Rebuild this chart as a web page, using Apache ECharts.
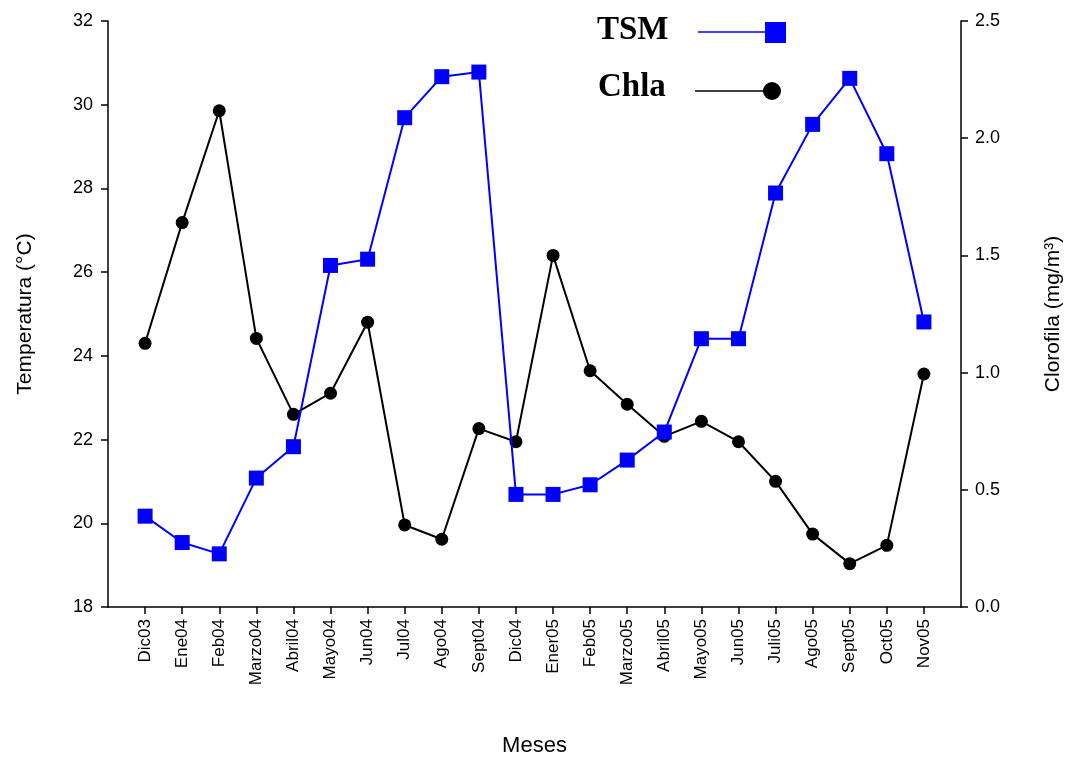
<!DOCTYPE html>
<html><head><meta charset="utf-8">
<script src="https://cdn.jsdelivr.net/npm/echarts@6/dist/echarts.min.js"></script>
<style>html,body{margin:0;padding:0;background:#fff}#c{width:1072px;height:765px}</style>
</head><body><div id="c"></div>
<script>
var categories = ['Dic03','Ene04','Feb04','Marzo04','Abril04','Mayo04','Jun04','Jul04','Ago04','Sept04','Dic04','Ener05','Feb05','Marzo05','Abril05','Mayo05','Jun05','Juli05','Ago05','Sept05','Oct05','Nov05'];
var tsm = [20.17,19.54,19.27,21.08,21.83,26.16,26.31,29.69,30.67,30.78,20.69,20.69,20.92,21.51,22.18,24.41,24.41,27.89,29.53,30.63,28.83,24.81];
var chla = [1.125,1.64,2.117,1.146,0.822,0.912,1.215,0.35,0.289,0.761,0.705,1.50,1.008,0.865,0.728,0.792,0.705,0.536,0.311,0.185,0.263,0.994];
var tempTicks = [18,20,22,24,26,28,30,32];
var chlaTicks = [0,0.5,1,1.5,2,2.5];

var idx = categories.map(function(_, i){ return i; });
var font = 'Liberation Sans, Arial, sans-serif';
var chart = echarts.init(document.getElementById('c'), null, {renderer:'canvas'});
chart.setOption({
  backgroundColor:'#fff',
  animation:false,
  grid:{left:108,right:109,top:21,bottom:158,containLabel:false},
  xAxis:{
    type:'value', min:-1, max:categories.length,
    name:'Meses', nameLocation:'middle', nameGap:128,
    nameTextStyle:{fontFamily:font,fontSize:22,color:'#000'},
    axisLine:{show:true,onZero:false,lineStyle:{color:'#000',width:1.5}},
    axisTick:{show:true,length:7,lineStyle:{color:'#000',width:1.5},customValues:idx},
    axisLabel:{rotate:90,fontFamily:font,fontSize:17,color:'#000',margin:12,customValues:idx,
      formatter:function(v){return categories[Math.round(v)]||'';}},
    splitLine:{show:false}
  },
  yAxis:[{
    type:'value', min:tempTicks[0], max:tempTicks[tempTicks.length-1], interval:2, position:'left',
    name:'Temperatura (°C)', nameLocation:'middle', nameGap:72, nameRotate:90,
    nameTextStyle:{fontFamily:font,fontSize:21,color:'#000'},
    axisLine:{show:true,onZero:false,lineStyle:{color:'#000',width:1.5}},
    axisTick:{show:true,length:7,lineStyle:{color:'#000',width:1.5}},
    axisLabel:{fontFamily:font,fontSize:18,color:'#000',margin:15},
    splitLine:{show:false}
  },{
    type:'value', min:chlaTicks[0], max:chlaTicks[chlaTicks.length-1], interval:0.5, position:'right',
    name:'Clorofila (mg/m³)', nameLocation:'middle', nameGap:82, nameRotate:90,
    nameTextStyle:{fontFamily:font,fontSize:21,color:'#000'},
    axisLine:{show:true,onZero:false,lineStyle:{color:'#000',width:1.5}},
    axisTick:{show:true,length:7,lineStyle:{color:'#000',width:1.5}},
    axisLabel:{fontFamily:font,fontSize:18,color:'#000',margin:14,formatter:function(v){return v.toFixed(1);}},
    splitLine:{show:false}
  }],
  series:[{
    name:'TSM', type:'line', yAxisIndex:0,
    data: tsm.map(function(v,i){return [i,v];}),
    symbol:'rect', symbolSize:15,
    lineStyle:{color:'#0000ff',width:2},
    itemStyle:{color:'#0000ff'}, z:3
  },{
    name:'Chla', type:'line', yAxisIndex:1,
    data: chla.map(function(v,i){return [i,v];}),
    symbol:'circle', symbolSize:13,
    lineStyle:{color:'#000',width:2},
    itemStyle:{color:'#000'}, z:2
  }],
  graphic:[
    {type:'text', left:597, top:14, style:{text:'TSM', font:'bold 33px "Liberation Serif", "Times New Roman", serif', fill:'#000'}},
    {type:'line', shape:{x1:698,y1:32,x2:773,y2:32}, style:{stroke:'#0000ff',lineWidth:1.5}},
    {type:'rect', shape:{x:765,y:22,width:21,height:21}, style:{fill:'#0000ff'}},
    {type:'text', left:598, top:71, style:{text:'Chla', font:'bold 33px "Liberation Serif", "Times New Roman", serif', fill:'#000'}},
    {type:'line', shape:{x1:695,y1:91,x2:772,y2:91}, style:{stroke:'#000',lineWidth:1.5}},
    {type:'circle', shape:{cx:772,cy:91,r:9}, style:{fill:'#000'}}
  ]
});
</script></body></html>
